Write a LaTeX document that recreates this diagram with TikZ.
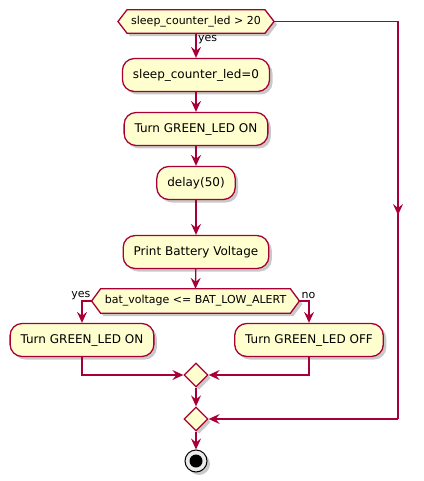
\documentclass[tikz,border=0pt]{standalone}
\usepackage{fontspec}
\setmainfont{DejaVu Sans}
\usetikzlibrary{shapes.geometric,arrows.meta,shadows,calc}
\definecolor{umlred}{HTML}{A80036}
\definecolor{umlfill}{HTML}{FEFECE}
\pgfdeclarelayer{bg}
\pgfsetlayers{bg,main}
\tikzset{
  shad/.style={drop shadow={shadow xshift=3pt,shadow yshift=-3pt,opacity=0.3,fill=black!70}},
  act/.style={rectangle, rounded corners=12pt, draw=umlred, fill=umlfill, line width=1.3pt,
    font=\fontsize{12}{14}\selectfont, inner xsep=10.5pt, minimum height=33pt, shad},
  hextxt/.style={rectangle, inner xsep=4pt, inner ysep=0pt, font=\fontsize{11}{13}\selectfont},
  hexsty/.style={draw=umlred, fill=umlfill, line width=1.3pt, shad},
  merge/.style={diamond, draw=umlred, fill=umlfill, line width=1.3pt, minimum width=24pt,
    minimum height=24pt, inner sep=0pt, shad},
  tipsty/.style={-{Stealth[length=11pt,width=10pt,inset=4pt]}},
  conn/.style={draw=umlred, line width=1.3pt, tipsty},
  plain/.style={draw=umlred, line width=1.3pt},
  lbl/.style={font=\fontsize{11}{13}\selectfont, inner sep=0pt}
}
\begin{document}
\begin{tikzpicture}[x=1pt,y=-1pt]
\useasboundingbox (0,0) rectangle (423,481);
% condition 1
\node[hextxt, minimum height=23pt] (h1) at (196,21.5) {sleep\_counter\_led > 20};
\coordinate (h1w) at ([xshift=-9pt]h1.west);
\coordinate (h1e) at ([xshift=9pt]h1.east);
\begin{pgfonlayer}{bg}
\path[hexsty] (h1w) -- (h1.north west) -- (h1.north east) -- (h1e) -- (h1.south east) -- (h1.south west) -- cycle;
\end{pgfonlayer}
% activities
\node[act] (b1) at (196,75) {sleep\_counter\_led=0};
\node[act] (b2) at (196,129) {Turn GREEN\_LED ON};
\node[act] (b3) at (196,183) {delay(50)};
\node[act] (b4) at (196,252) {Print Battery Voltage};
% condition 2
\node[hextxt, minimum height=24pt] (h2) at (195.5,301) {bat\_voltage <= BAT\_LOW\_ALERT};
\coordinate (h2w) at ([xshift=-9pt]h2.west);
\coordinate (h2e) at ([xshift=9pt]h2.east);
\begin{pgfonlayer}{bg}
\path[hexsty] (h2w) -- (h2.north west) -- (h2.north east) -- (h2e) -- (h2.south east) -- (h2.south west) -- cycle;
\end{pgfonlayer}
\node[act] (lb) at (82,340) {Turn GREEN\_LED ON};
\node[act] (rb) at (309,340) {Turn GREEN\_LED OFF};
% merges
\node[merge] (d1) at (196,375) {};
\node[merge] (d2) at (196,419) {};
% end
\node[circle, draw=black, fill=black!8, line width=1pt, minimum size=22pt, inner sep=0pt, shad] (end) at (196,461) {};
\fill[black] (end.center) circle (6.5pt);
% connectors
\draw[conn] (h1.south) -- (b1.north);
\node[lbl, anchor=north west] at ([xshift=2pt,yshift=-1.5pt]h1.south) {yes};
\draw[conn] (b1) -- (b2);
\draw[conn] (b2) -- (b3);
\draw[conn] (b3) -- (b4);
\draw[conn] (b4) -- (h2.north);
\draw[conn] (h2w) -| (lb.north);
\node[lbl, anchor=south east] at ([xshift=-1pt,yshift=1pt]h2w) {yes};
\draw[conn] (h2e) -| (rb.north);
\node[lbl, anchor=south west] at ([xshift=2pt,yshift=2pt]h2e) {no};
\draw[conn] (lb.south) |- (d1.west);
\draw[conn] (rb.south) |- (d1.east);
\draw[conn] (d1.south) -- (d2.north);
\coordinate (rtop) at (398,21.5);
\coordinate (rmid) at (398,215);
\coordinate (rbot) at (398,419);
\draw[plain] (h1e) -- (rtop) -- (rbot);
\draw[conn] (rtop) -- (rmid);
\draw[conn] (rbot) -- (d2.east);
\draw[conn] (d2.south) -- (end.north);
\end{tikzpicture}
\end{document}
